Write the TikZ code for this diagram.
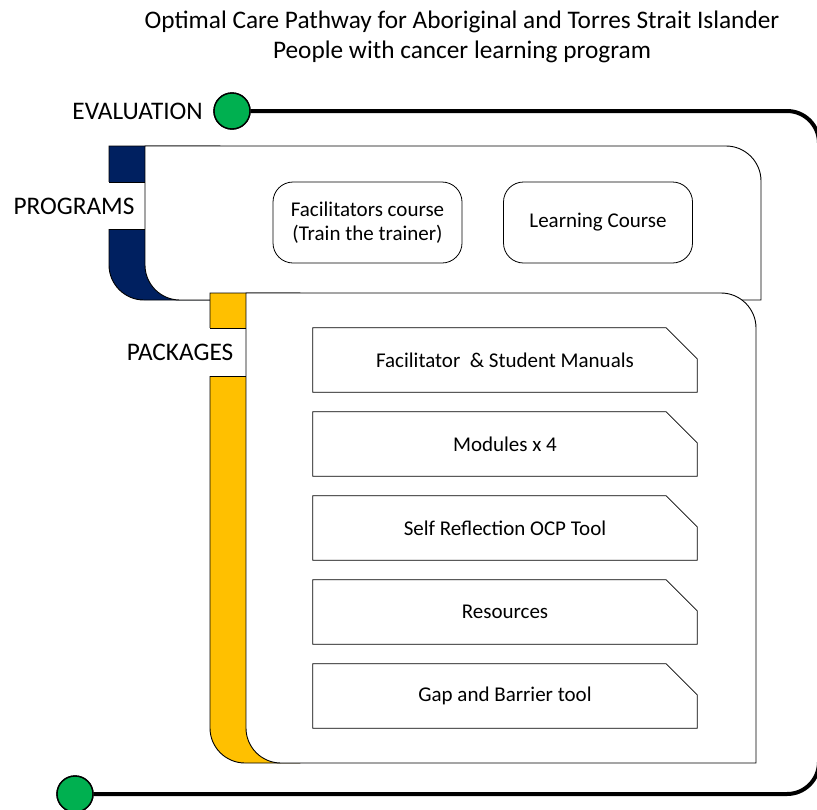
\documentclass[tikz,border=0pt]{standalone}
\usepackage{fontspec}
\setmainfont{Carlito}
\begin{document}
\begin{tikzpicture}[x=1pt,y=-1pt,
  thinline/.style={draw=black,line width=0.9pt},
  looppath/.style={draw=black,line width=4pt},
  dot/.style={circle,draw=black,line width=1.4pt,fill=evalgreen,minimum size=36pt,inner sep=0pt},
  bigtext/.style={font=\fontsize{25.3}{30}\selectfont,anchor=base,inner sep=0pt},
  coursebox/.style={draw=black,line width=0.8pt,rounded corners=20pt,fill=white,
    minimum width=189pt,minimum height=81pt,font=\fontsize{21}{24}\selectfont,align=center},
  docbox/.style={minimum width=384pt,minimum height=64pt,inner sep=0pt,font=\fontsize{21}{24}\selectfont}
]
\definecolor{evalgreen}{HTML}{00B050}
\definecolor{progblue}{HTML}{002060}
\definecolor{packyellow}{HTML}{FFC000}

\useasboundingbox (0,0) rectangle (817,809);
\clip (0,0) rectangle (817,809);

% title
\node[bigtext] (title1) at (462,28) {Optimal Care Pathway for Aboriginal and Torres Strait Islander};
\node[bigtext] (title2) at (462,58) {People with cancer learning program};

% evaluation markers
\node[dot] (evalTop) at (232,111) {};
\node[dot] (evalBot) at (75,794) {};
\node[bigtext,anchor=base east] (evalLabel) at (203,119) {EVALUATION};

% evaluation loop around both panels
\draw[looppath] (evalBot.east) -- (787,794) .. controls (804.7,794) and (819,779.7) .. (819,762)
  -- (819,143) .. controls (819,125.3) and (804.7,111) .. (787,111) -- (evalTop.east);
\node[dot] at (evalTop) {};
\node[dot] at (evalBot) {};

% programs panel: navy tab behind the white card
\filldraw[thinline,fill=progblue] (109,146) -- (220,146) -- (220,300) -- (144,300)
  .. controls (124.7,300) and (109,284.3) .. (109,265) -- cycle;
\fill[white] (107,182) rectangle (145,229);
\draw[thinline] (109,182) -- (145,182);
\draw[thinline] (109,229) -- (145,229);
\filldraw[thinline,fill=white] (145,146) -- (726,146) .. controls (745.3,146) and (761,161.7) .. (761,181)
  -- (761,300) -- (180,300) .. controls (160.7,300) and (145,284.3) .. (145,265) -- cycle;
\node[bigtext] (progLabel) at (74,214) {PROGRAMS};

\node[coursebox] (facCourse) at (367.5,222.5) {Facilitators course\\ (Train the trainer)};
\node[coursebox] (learnCourse) at (598,222.5) {Learning Course};

% packages panel: yellow tab behind the white card
\filldraw[thinline,fill=packyellow] (210,293) -- (300,293) -- (300,763) -- (245,763)
  .. controls (225.7,763) and (210,747.3) .. (210,728) -- cycle;
\fill[white] (208,328) rectangle (246,376);
\draw[thinline] (210,328) -- (246,328);
\draw[thinline] (210,376) -- (246,376);
\filldraw[thinline,fill=white] (246,293) -- (721,293) .. controls (740.3,293) and (756,308.7) .. (756,328)
  -- (756,763) -- (281,763) .. controls (261.7,763) and (246,747.3) .. (246,728) -- cycle;
\node[bigtext] (packLabel) at (180,360) {PACKAGES};

% package documents (rectangles with a cut top-right corner)
\foreach \name/\ytop/\label in {
    docManuals/328/{Facilitator\ \ \& Student Manuals},
    docModules/412/{Modules x 4},
    docReflect/496/{Self Reflection OCP Tool},
    docResources/580/{Resources},
    docGap/664/{Gap and Barrier tool}} {
  \node[docbox] (\name) at (505,\ytop+32) {\label};
  \draw[draw=black,line width=0.8pt] (\name.south west) -- (\name.north west)
    -- ([xshift=-31pt]\name.north east) -- ([yshift=-31pt]\name.north east)
    -- (\name.south east) -- cycle;
}
\end{tikzpicture}
\end{document}
